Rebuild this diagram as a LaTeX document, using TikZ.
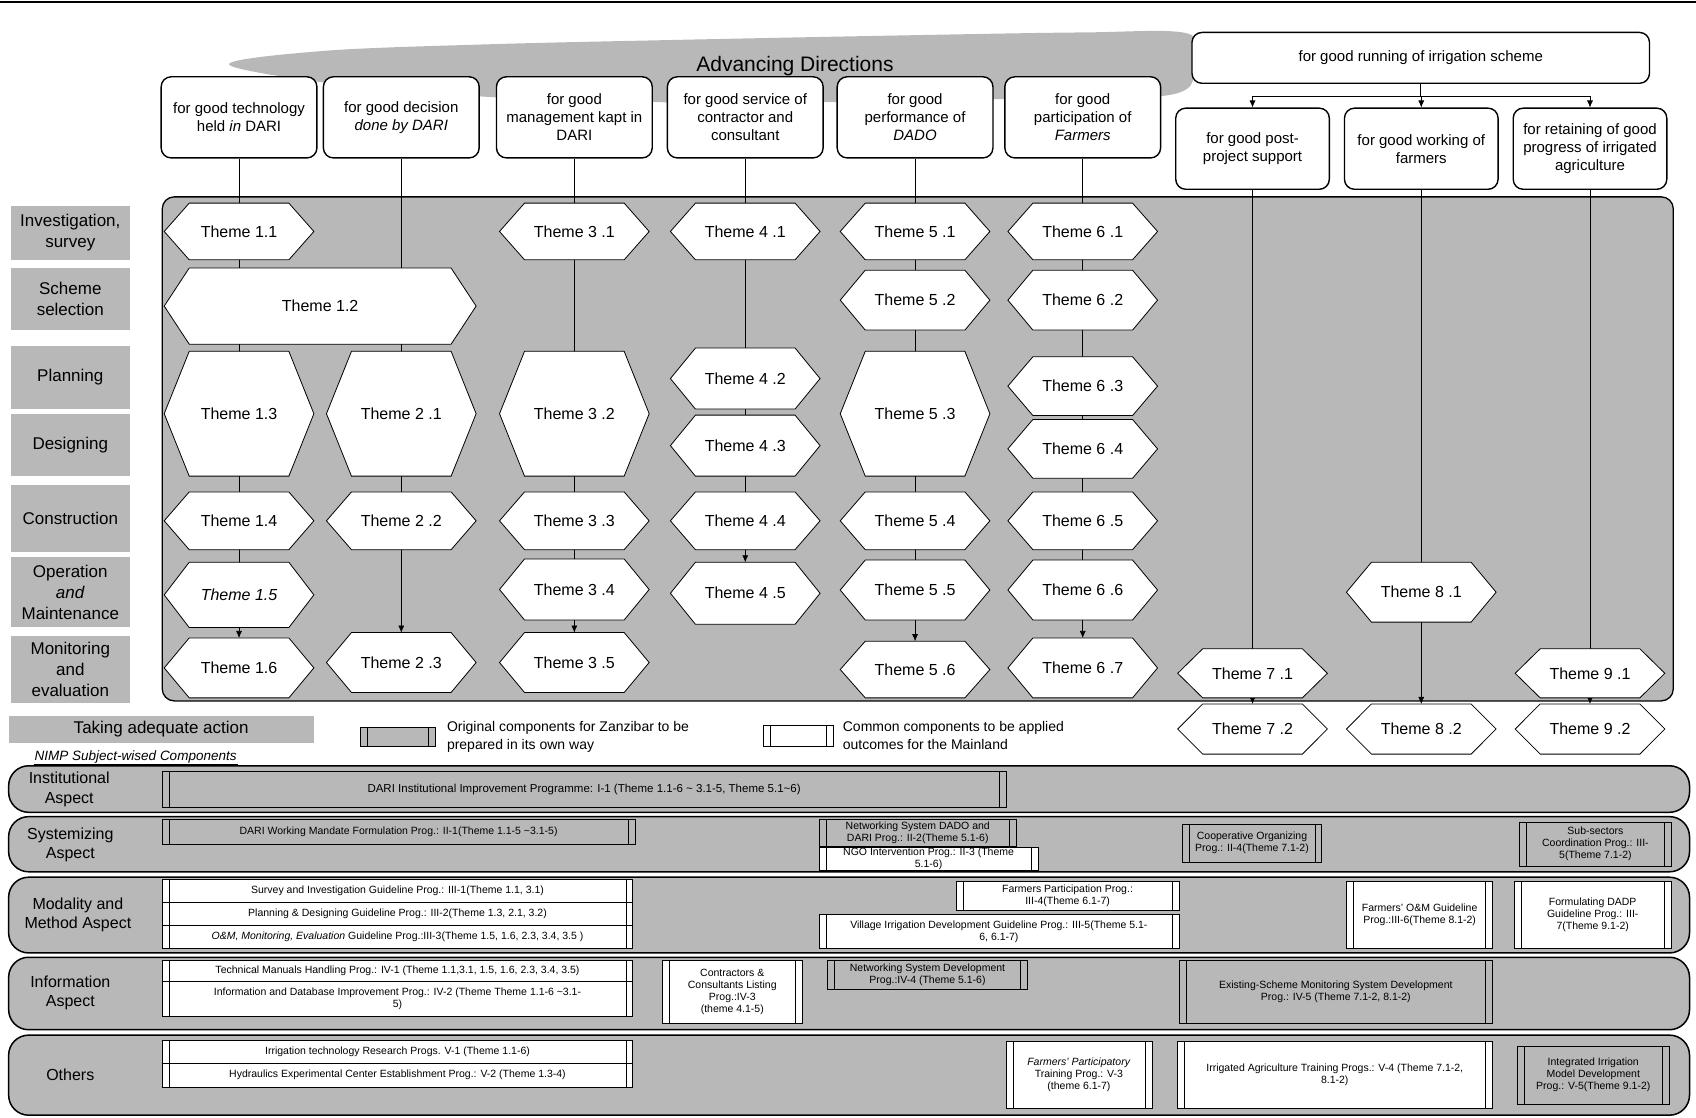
\documentclass[tikz,border=0pt]{standalone}
\usepackage{fontspec}
\setmainfont{Liberation Sans}
\usetikzlibrary{fit,arrows.meta}
\pgfdeclarelayer{back}
\pgfdeclarelayer{mid}
\pgfsetlayers{back,mid,main}

\newcommand\hexdepth{25pt}
% theme hexagon: name, x1, y1, x2, y2, text
\newcommand\hexa[6]{%
  \node[fit={(#2,#3) (#4,#5)}, inner sep=0pt] (#1) {};
  \draw[hexline] (#1.west) -- ([xshift=\hexdepth]#1.north west) -- ([xshift=-\hexdepth]#1.north east)
    -- (#1.east) -- ([xshift=-\hexdepth]#1.south east) -- ([xshift=\hexdepth]#1.south west) -- cycle;
  \node[themetext] (#1t) at (#1.center) {#6};}
% framed box: shape style, text style, name, x1, y1, x2, y2, text
\newcommand\fitbox[8]{%
  \node[#1, fit={(#4,#5) (#6,#7)}] (#3) {};
  \node[#2] (#3t) at (#3.center) {#8};}

\tikzset{
  halftone/.style={fill=black!28},
  dirbox/.style={draw, fill=white, line width=1.4pt, rounded corners=10pt, inner sep=0pt},
  dirtext/.style={align=center, inner sep=0pt, font=\fontsize{15}{18}\selectfont},
  hexline/.style={fill=white, draw, line width=0.8pt},
  themetext/.style={font=\fontsize{16}{19}\selectfont},
  stagebox/.style={halftone, inner sep=0pt},
  stagetext/.style={align=center, inner sep=0pt, font=\fontsize{17}{21}\selectfont},
  panel/.style={halftone, draw, line width=1.3pt, rounded corners=12pt, inner sep=0pt},
  band/.style={halftone, draw, line width=1.5pt, rounded corners=20pt, inner sep=0pt},
  bandlabel/.style={align=center, font=\fontsize{16}{19.5}\selectfont},
  prog/.style={draw, line width=0.6pt, inner sep=0pt,
    path picture={\draw[line width=0.5pt]
      ([xshift=7pt]path picture bounding box.north west) -- ([xshift=7pt]path picture bounding box.south west)
      ([xshift=-7pt]path picture bounding box.north east) -- ([xshift=-7pt]path picture bounding box.south east);}},
  progW/.style={prog, fill=white},
  progG/.style={prog, halftone},
  progtext/.style={align=center, inner sep=0pt, font=\fontsize{10.5}{12}\selectfont},
  flow/.style={line width=0.6pt},
  flowarrow/.style={flow, -{Latex[length=7pt,width=6pt]}},
}

\begin{document}
\begin{tikzpicture}[x=1.0816pt, y=-1.0816pt]
\useasboundingbox (0,0) rectangle (1568,1033);
\draw[line width=1.6pt] (0,2) -- (1568,2);

% advancing directions
\begin{pgfonlayer}{back}
\fill[halftone] plot[smooth cycle, tension=0.55] coordinates {(212,60) (300,47) (450,41) (620,37)
  (820,33) (1000,30) (1098,31) (1104,60) (1080,88) (900,92) (700,95) (500,92) (330,80)};
\end{pgfonlayer}
\node[font=\fontsize{21}{24}\selectfont] (adv) at (735,61) {Advancing Directions};

\fitbox{dirbox}{dirtext}{d1}{149}{71}{293}{146}{for good technology\\held \textit{in} DARI}
\fitbox{dirbox}{dirtext}{d2}{299}{71}{443}{146}{for good decision\\\textit{done by DARI}}
\fitbox{dirbox}{dirtext}{d3}{459}{71}{603}{146}{for good\\management kapt in\\DARI}
\fitbox{dirbox}{dirtext}{d4}{617}{71}{761}{146}{for good service of\\contractor and\\consultant}
\fitbox{dirbox}{dirtext}{d5}{774}{71}{918}{146}{for good\\performance of\\\textit{DADO}}
\fitbox{dirbox}{dirtext}{d6}{929}{71}{1073}{146}{for good\\participation of\\\textit{Farmers}}
\fitbox{dirbox}{dirtext}{run}{1102}{30}{1525}{77}{for good running of irrigation scheme}
\fitbox{dirbox}{dirtext}{d7}{1087}{100}{1229}{175}{for good post-\\project support}
\fitbox{dirbox}{dirtext}{d8}{1243}{100}{1385}{175}{for good working of\\farmers}
\fitbox{dirbox}{dirtext}{d9}{1399}{100}{1541}{175}{for retaining of good\\progress of irrigated\\agriculture}

% stages
\begin{pgfonlayer}{back}
\node[panel, fit={(150,182) (1547,648)}] (panel) {};
\end{pgfonlayer}
\fitbox{stagebox}{stagetext}{s1}{10}{190}{120}{240}{Investigation,\\survey}
\fitbox{stagebox}{stagetext}{s2}{10}{248}{120}{305}{Scheme\\selection}
\fitbox{stagebox}{stagetext}{s3}{10}{320}{120}{378}{Planning}
\fitbox{stagebox}{stagetext}{s4}{10}{383}{120}{440}{Designing}
\fitbox{stagebox}{stagetext}{s5}{10}{448}{120}{510}{Construction}
\fitbox{stagebox}{stagetext}{s6}{10}{515}{120}{580}{Operation\\\textit{and}\\Maintenance}
\fitbox{stagebox}{stagetext}{s7}{10}{588}{120}{650}{Monitoring\\and\\evaluation}
\fitbox{stagebox}{stagetext}{s8}{8}{662}{290}{687}{Taking adequate action}

% themes
\hexa{t11}{152}{188}{290}{240}{Theme 1.1}
\hexa{t12}{152}{248}{440}{318}{Theme 1.2}
\hexa{t13}{152}{325}{290}{440}{Theme 1.3}
\hexa{t14}{152}{455}{290}{508}{Theme 1.4}
\hexa{t15}{152}{520}{290}{580}{\textit{Theme 1.5}}
\hexa{t16}{152}{590}{290}{645}{Theme 1.6}
\hexa{t21}{302}{325}{440}{440}{Theme 2 .1}
\hexa{t22}{302}{455}{440}{508}{Theme 2 .2}
\hexa{t23}{302}{585}{440}{640}{Theme 2 .3}
\hexa{t31}{462}{188}{600}{240}{Theme 3 .1}
\hexa{t32}{462}{325}{600}{440}{Theme 3 .2}
\hexa{t33}{462}{455}{600}{508}{Theme 3 .3}
\hexa{t34}{462}{517}{600}{573}{Theme 3 .4}
\hexa{t35}{462}{585}{600}{640}{Theme 3 .5}
\hexa{t41}{620}{188}{758}{240}{Theme 4 .1}
\hexa{t42}{620}{322}{758}{378}{Theme 4 .2}
\hexa{t43}{620}{384}{758}{440}{Theme 4 .3}
\hexa{t44}{620}{455}{758}{508}{Theme 4 .4}
\hexa{t45}{620}{520}{758}{577}{Theme 4 .5}
\hexa{t51}{777}{188}{915}{240}{Theme 5 .1}
\hexa{t52}{777}{250}{915}{305}{Theme 5 .2}
\hexa{t53}{777}{325}{915}{440}{Theme 5 .3}
\hexa{t54}{777}{455}{915}{508}{Theme 5 .4}
\hexa{t55}{777}{518}{915}{573}{Theme 5 .5}
\hexa{t56}{777}{593}{915}{645}{Theme 5 .6}
\hexa{t61}{932}{188}{1070}{240}{Theme 6 .1}
\hexa{t62}{932}{250}{1070}{305}{Theme 6 .2}
\hexa{t63}{932}{330}{1070}{384}{Theme 6 .3}
\hexa{t64}{932}{388}{1070}{442}{Theme 6 .4}
\hexa{t65}{932}{455}{1070}{508}{Theme 6 .5}
\hexa{t66}{932}{518}{1070}{573}{Theme 6 .6}
\hexa{t67}{932}{590}{1070}{645}{Theme 6 .7}
\hexa{t71}{1089}{600}{1227}{645}{Theme 7 .1}
\hexa{t72}{1089}{651}{1227}{697}{Theme 7 .2}
\hexa{t81}{1245}{520}{1383}{575}{Theme 8 .1}
\hexa{t82}{1245}{651}{1383}{697}{Theme 8 .2}
\hexa{t91}{1401}{600}{1539}{645}{Theme 9 .1}
\hexa{t92}{1401}{651}{1539}{697}{Theme 9 .2}

\begin{pgfonlayer}{mid}
\draw[flow] (run.south) -- ++(0,11) coordinate (split);
\draw[flow] (split -| d7.north) -- (split -| d9.north);
\foreach \d in {d7,d8,d9}
  \draw[flowarrow] (split -| \d.north) -- (\d.north);
\foreach \a/\b in {d1/t16, d2/t23, d3/t35, d4/t45, d5/t56, d6/t67, d7/t72, d8/t82, d9/t92}
  \draw[flowarrow] (\a.south) -- (\a.south |- \b.north);
\end{pgfonlayer}

% legend
\node[progG, fit={(333,672) (402,690)}] (lg) {};
\node[anchor=west, align=left, font=\fontsize{14}{18}\selectfont] (lgt) at (410,681)
  {Original components for Zanzibar to be\\prepared in its own way};
\node[progW, fit={(706,671) (770,690)}] (lw) {};
\node[anchor=west, align=left, font=\fontsize{14}{18}\selectfont] (lwt) at (776,680)
  {Common components to be applied\\outcomes for the Mainland};

% subject-wised components
\node[anchor=west, font=\itshape\fontsize{13.5}{15}\selectfont, inner sep=1pt] (nimp) at (31,700)
  {NIMP Subject-wised Components};
\draw[line width=0.8pt] (nimp.south west) -- (nimp.south east);
\begin{pgfonlayer}{back}
\node[band, fit={(8,708) (1562,751)}] (b1) {};
\node[band, fit={(8,755) (1562,806)}] (b2) {};
\node[band, fit={(8,811) (1562,881)}] (b3) {};
\node[band, fit={(8,885) (1562,952)}] (b4) {};
\node[band, fit={(8,957) (1562,1031)}] (b5) {};
\end{pgfonlayer}
\node[bandlabel] (b1t) at (64,730) {Institutional\\Aspect};
\node[bandlabel] (b2t) at (65,781) {Systemizing\\Aspect};
\node[bandlabel] (b3t) at (72,846) {Modality and\\Method Aspect};
\node[bandlabel] (b4t) at (65,918) {Information\\Aspect};
\node[bandlabel] (b5t) at (65,994) {Others};

\fitbox{progG}{progtext, font=\fontsize{11.5}{13}\selectfont}{p11}{150}{713}{930}{746}{DARI Institutional Improvement Programme: I-1 (Theme 1.1-6 \textasciitilde\ 3.1-5, Theme 5.1\textasciitilde 6)}
\fitbox{progG}{progtext}{p21}{150}{757}{587}{781}{DARI Working Mandate Formulation Prog.: II-1(Theme 1.1-5 \textasciitilde 3.1-5)}
\fitbox{progG}{progtext}{p22}{757}{757}{940}{782}{Networking System DADO and\\DARI Prog.: II-2(Theme 5.1-6)}
\fitbox{progW}{progtext}{p23}{757}{783}{960}{805}{NGO Intervention Prog.: II-3 (Theme\\5.1-6)}
\fitbox{progG}{progtext}{p24}{1093}{762}{1222}{797}{Cooperative Organizing\\Prog.: II-4(Theme 7.1-2)}
\fitbox{progG}{progtext}{p25}{1405}{760}{1545}{801}{Sub-sectors\\Coordination Prog.: III-\\5(Theme 7.1-2)}
\fitbox{progW}{progtext}{p31}{150}{813}{585}{834}{Survey and Investigation Guideline Prog.: III-1(Theme 1.1, 3.1)}
\fitbox{progW}{progtext}{p32}{150}{834}{585}{855}{Planning \& Designing Guideline Prog.: III-2(Theme 1.3, 2.1, 3.2)}
\fitbox{progW}{progtext}{p33}{150}{855}{585}{877}{\textit{O\&M, Monitoring, Evaluation} Guideline Prog.:III-3(Theme 1.5, 1.6, 2.3, 3.4, 3.5 )}
\fitbox{progW}{progtext}{p34}{884}{815}{1090}{842}{Farmers Participation Prog.:\\III-4(Theme 6.1-7)}
\fitbox{progW}{progtext}{p35}{757}{845}{1090}{877}{Village Irrigation Development Guideline Prog.: III-5(Theme 5.1-\\6, 6.1-7)}
\fitbox{progW}{progtext}{p36}{1245}{815}{1380}{877}{Farmers' O\&M Guideline\\Prog.:III-6(Theme 8.1-2)}
\fitbox{progW}{progtext}{p37}{1400}{815}{1545}{877}{Formulating DADP\\Guideline Prog.: III-\\7(Theme 9.1-2)}
\fitbox{progW}{progtext}{p41}{150}{888}{585}{907}{Technical Manuals Handling Prog.: IV-1 (Theme 1.1,3.1, 1.5, 1.6, 2.3, 3.4, 3.5)}
\fitbox{progW}{progtext}{p42}{150}{907}{585}{940}{Information and Database Improvement Prog.: IV-2 (Theme Theme 1.1-6 \textasciitilde 3.1-\\5)}
\fitbox{progW}{progtext}{p43}{612}{888}{742}{946}{Contractors \&\\Consultants Listing\\Prog.:IV-3\\(theme 4.1-5)}
\fitbox{progG}{progtext}{p44}{765}{888}{950}{915}{Networking System Development\\Prog.:IV-4 (Theme 5.1-6)}
\fitbox{progG}{progtext}{p45}{1090}{888}{1380}{946}{Existing-Scheme Monitoring System Development\\Prog.: IV-5 (Theme 7.1-2, 8.1-2)}
\fitbox{progW}{progtext}{p51}{150}{962}{585}{983}{Irrigation technology Research Progs. V-1 (Theme 1.1-6)}
\fitbox{progW}{progtext}{p52}{150}{983}{585}{1005}{Hydraulics Experimental Center Establishment Prog.: V-2 (Theme 1.3-4)}
\fitbox{progW}{progtext}{p53}{930}{963}{1065}{1025}{\textit{Farmers' Participatory}\\Training Prog.: V-3\\(theme 6.1-7)}
\fitbox{progW}{progtext}{p54}{1088}{963}{1380}{1025}{Irrigated Agriculture Training Progs.: V-4 (Theme 7.1-2,\\8.1-2)}
\fitbox{progG}{progtext}{p55}{1403}{967}{1543}{1021}{Integrated Irrigation\\Model Development\\Prog.: V-5(Theme 9.1-2)}
\end{tikzpicture}
\end{document}
